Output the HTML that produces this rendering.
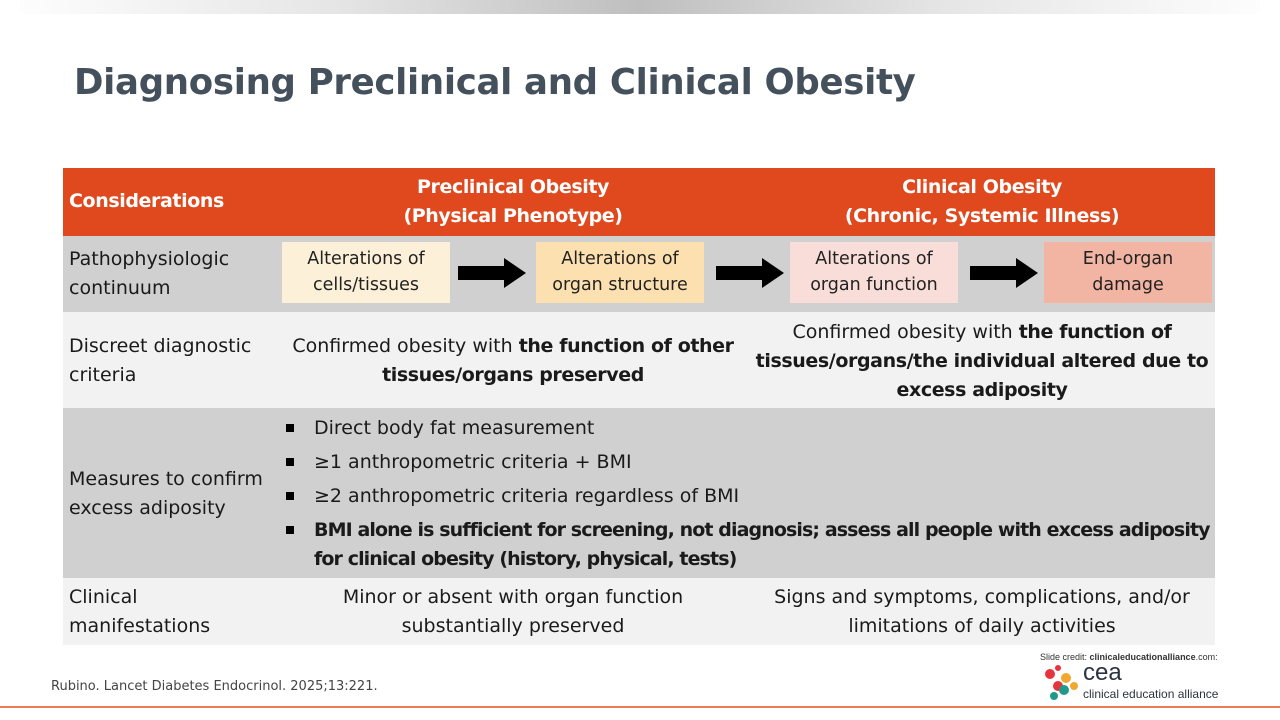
<!DOCTYPE html>
<html><head><meta charset="utf-8"><style>
*{margin:0;padding:0;box-sizing:border-box}
body{width:1280px;height:720px;background:#fff;position:relative;overflow:hidden;font-family:"DejaVu Sans","Liberation Sans",sans-serif;color:#1a1a1a}
.abs{position:absolute}
b{letter-spacing:-0.4px}
.topbar{left:20px;top:0;width:1240px;height:14px;background:linear-gradient(90deg,#fdfdfd 0%,#e6e6e6 25%,#bfbfbf 50%,#e6e6e6 75%,#fdfdfd 100%)}
h1{position:absolute;left:74px;top:62px;font-size:35.5px;font-weight:bold;color:#44505c;letter-spacing:-0.3px;font-family:"DejaVu Sans",sans-serif}
.row{position:absolute;left:63px;width:1152px}
.t{position:absolute;font-size:19px;line-height:29px}
.c{text-align:center}
.hb{font-weight:bold;letter-spacing:-0.4px}
.box{position:absolute;width:168px;height:61px;top:242px;font-size:17.5px;line-height:26px;text-align:center;padding-top:4px;color:#222}
.arrow{position:absolute;top:258px;width:68px;height:30px}
ul{list-style:none}
li{position:relative;padding-left:31px;font-size:19px;line-height:34px;white-space:nowrap}
li:before{content:"";position:absolute;left:3px;top:13px;width:8px;height:8px;background:#000}
</style></head><body>
<div class="abs topbar"></div>
<h1>Diagnosing Preclinical and Clinical Obesity</h1>

<div class="row" style="top:168px;height:68px;background:#e0491e"></div>
<div class="row" style="top:236px;height:76px;background:#d0d0d0"></div>
<div class="row" style="top:312px;height:96px;background:#f2f2f2"></div>
<div class="row" style="top:408px;height:170px;background:#d0d0d0"></div>
<div class="row" style="top:578px;height:67px;background:#f2f2f2"></div>

<div class="t hb" style="left:69px;top:187px;color:#fff">Considerations</div>
<div class="t c hb" style="left:313px;width:400px;top:173px;color:#fff">Preclinical Obesity<br>(Physical Phenotype)</div>
<div class="t c hb" style="left:782px;width:400px;top:173px;color:#fff">Clinical Obesity<br>(Chronic, Systemic Illness)</div>

<div class="t" style="left:69px;top:245px">Pathophysiologic<br>continuum</div>
<div class="box" style="left:282px;background:#fdf0d9">Alterations of<br>cells/tissues</div>
<div class="box" style="left:536px;background:#fde0b0">Alterations of<br>organ structure</div>
<div class="box" style="left:790px;background:#f8ddd8">Alterations of<br>organ function</div>
<div class="box" style="left:1044px;background:#f2b4a3">End-organ<br>damage</div>
<svg class="arrow" style="left:458px" viewBox="0 0 68 30"><polygon points="0,8 46,8 46,0 68,15 46,30 46,22 0,22" fill="#000"/></svg>
<svg class="arrow" style="left:716px" viewBox="0 0 68 30"><polygon points="0,8 46,8 46,0 68,15 46,30 46,22 0,22" fill="#000"/></svg>
<svg class="arrow" style="left:970px" viewBox="0 0 68 30"><polygon points="0,8 46,8 46,0 68,15 46,30 46,22 0,22" fill="#000"/></svg>

<div class="t" style="left:69px;top:332px">Discreet diagnostic<br>criteria</div>
<div class="t c" style="left:283px;width:460px;top:332px">Confirmed obesity with <b>the function of other<br>tissues/organs preserved</b></div>
<div class="t c" style="left:752px;width:460px;top:318px">Confirmed obesity with <b>the function of<br>tissues/organs/the individual altered due to<br>excess adiposity</b></div>

<div class="t" style="left:69px;top:465px">Measures to confirm<br>excess adiposity</div>
<ul class="abs" style="left:283px;top:411px;width:935px">
<li>Direct body fat measurement</li>
<li>≥1 anthropometric criteria + BMI</li>
<li>≥2 anthropometric criteria regardless of BMI</li>
<li style="line-height:29px;padding-top:3px"><b style="letter-spacing:-0.9px">BMI alone is sufficient for screening, not diagnosis; assess all people with excess adiposity<br>for clinical obesity (history, physical, tests)</b></li>
</ul>

<div class="t" style="left:69px;top:583px">Clinical<br>manifestations</div>
<div class="t c" style="left:283px;width:460px;top:583px">Minor or absent with organ function<br>substantially preserved</div>
<div class="t c" style="left:752px;width:460px;top:583px">Signs and symptoms, complications, and/or<br>limitations of daily activities</div>

<div class="abs" style="left:51px;top:679px;font-size:13px;color:#444">Rubino. Lancet Diabetes Endocrinol. 2025;13:221.</div>
<div class="abs" style="left:1040px;top:652px;font-size:9px;color:#333;font-family:'Liberation Sans',sans-serif">Slide credit: <b style="letter-spacing:0">clinicaleducationalliance</b>.com:</div>
<svg class="abs" style="left:1042px;top:664px" width="38" height="38" viewBox="0 0 38 38">
<circle cx="8" cy="10" r="5" fill="#e8333b"/><circle cx="16" cy="4" r="3" fill="#e8333b"/><circle cx="24" cy="14" r="5" fill="#f0a830"/><circle cx="32" cy="22" r="4" fill="#f0a830"/><circle cx="16" cy="22" r="5" fill="#e8333b"/><circle cx="22" cy="26" r="5" fill="#1f9a8a"/><circle cx="12" cy="32" r="4" fill="#1f9a8a"/>
</svg>
<div class="abs" style="left:1083px;top:660px;font-size:24px;color:#2b3340;font-family:'Liberation Sans',sans-serif;line-height:26px">cea</div>
<div class="abs" style="left:1083px;top:687px;font-size:12px;color:#2b3340;font-family:'Liberation Sans',sans-serif">clinical education alliance</div>
<div class="abs" style="left:0;top:706px;width:1280px;height:2px;background:#ee7b55"></div>
</body></html>
